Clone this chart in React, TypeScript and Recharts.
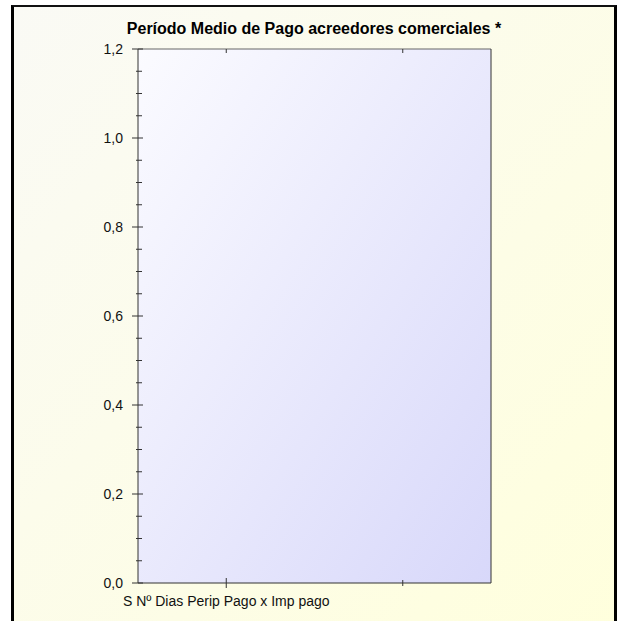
import React from 'react';
import { BarChart, Bar, XAxis, YAxis, CartesianGrid } from 'recharts';

const categories = ['S Nº Dias Perip Pago x Imp pago', ''];
const pagoValues = [0, 0];
const yMajorTicks = [0, 0.2, 0.4, 0.6, 0.8, 1.0, 1.2];
const yMinorTicks = [
  0.05, 0.1, 0.15, 0.25, 0.3, 0.35, 0.45, 0.5, 0.55, 0.65, 0.7, 0.75,
  0.85, 0.9, 0.95, 1.05, 1.1, 1.15,
];

const chartTitle = 'Período Medio de Pago acreedores comerciales *';
const font = '"Liberation Sans", Arial, sans-serif';

const data = categories.map((name, i) => ({ name, valor: pagoValues[i] }));
const yTicks = [...yMajorTicks, ...yMinorTicks].sort((a, b) => a - b);

const isMajor = (v: number) => yMajorTicks.some((t) => Math.abs(t - v) < 1e-6);
const fmt = (v: number) => v.toFixed(1).replace('.', ',');

const LeftTick = (props: any) => {
  const { x, y, payload } = props;
  const major = isMajor(payload.value);
  return (
    <g>
      <line x1={major ? x - 6 : x - 2} x2={major ? x + 5 : x + 4} y1={y} y2={y} stroke="#333" />
      {major && (
        <text x={x - 15} y={y} dy={5} textAnchor="end" fontSize={14} fill="#111" fontFamily={font}>
          {fmt(payload.value)}
        </text>
      )}
    </g>
  );
};

const RightTick = (props: any) => {
  const { x, y, payload } = props;
  const major = isMajor(payload.value);
  return <line x1={major ? x - 6 : x - 3} x2={x} y1={y} y2={y} stroke="#555" />;
};

const TopTick = (props: any) => {
  const { x, y } = props;
  return <line x1={x} x2={x} y1={y} y2={y + 4} stroke="#333" />;
};

const BottomTick = (props: any) => {
  const { x, y, payload, index } = props;
  const long = index === 0;
  return (
    <g>
      <line x1={x} x2={x} y1={long ? y - 5 : y - 3} y2={long ? y + 5 : y + 3} stroke="#333" />
      <text x={x} y={y + 23} textAnchor="middle" fontSize={14} fill="#111" fontFamily={font}>
        {payload.value}
      </text>
    </g>
  );
};

const App = () => {
  return (
    <div
      style={{
        position: 'absolute',
        left: 0,
        top: 0,
        width: 619,
        height: 621,
        overflow: 'hidden',
        background: '#fff',
      }}
    >
      <div
        style={{
          position: 'absolute',
          left: 11,
          top: 5,
          width: 606,
          height: 660,
          boxSizing: 'border-box',
          borderLeft: '3px solid #000',
          borderRight: '3px solid #000',
          borderTop: '2px solid #111',
          background: 'linear-gradient(to bottom right, #fafaf5, #ffffdc)',
        }}
      />
      <BarChart
        width={619}
        height={621}
        data={data}
        margin={{ top: 44, right: 118, bottom: 8, left: 0 }}
        style={{ position: 'absolute', left: 0, top: 0 }}
      >
        <defs>
          <linearGradient id="plotFill" x1="0" y1="0" x2="1" y2="1">
            <stop offset="0%" stopColor="#fbfbff" />
            <stop offset="100%" stopColor="#d8d8fa" />
          </linearGradient>
        </defs>
        <CartesianGrid fill="url(#plotFill)" fillOpacity={1} horizontal={false} vertical={false} />
        <XAxis
          dataKey="name"
          height={30}
          tickSize={0}
          tickMargin={0}
          interval={0}
          axisLine={{ stroke: '#333' }}
          tickLine={false}
          tick={<BottomTick />}
        />
        <XAxis
          xAxisId="top"
          dataKey="name"
          orientation="top"
          height={5}
          tickSize={0}
          tickMargin={0}
          interval={0}
          axisLine={{ stroke: '#666' }}
          tickLine={false}
          tick={<TopTick />}
        />
        <YAxis
          type="number"
          domain={[0, 1.2]}
          ticks={yTicks}
          interval={0}
          width={138}
          tickSize={0}
          tickMargin={0}
          axisLine={{ stroke: '#333' }}
          tickLine={false}
          tick={<LeftTick />}
        />
        <YAxis
          yAxisId="right"
          orientation="right"
          type="number"
          domain={[0, 1.2]}
          ticks={yTicks}
          interval={0}
          width={10}
          tickSize={0}
          tickMargin={0}
          axisLine={{ stroke: '#333' }}
          tickLine={false}
          tick={<RightTick />}
        />
        <Bar dataKey="valor" fill="#3366cc" isAnimationActive={false} />
      </BarChart>
      <svg
        width={619}
        height={621}
        style={{ position: 'absolute', left: 0, top: 0, pointerEvents: 'none' }}
      >
        <text x={314} y={34} textAnchor="middle" fontSize={16} fontWeight="bold" fill="#000" fontFamily={font}>
          {chartTitle}
        </text>
      </svg>
    </div>
  );
};

export default App;
